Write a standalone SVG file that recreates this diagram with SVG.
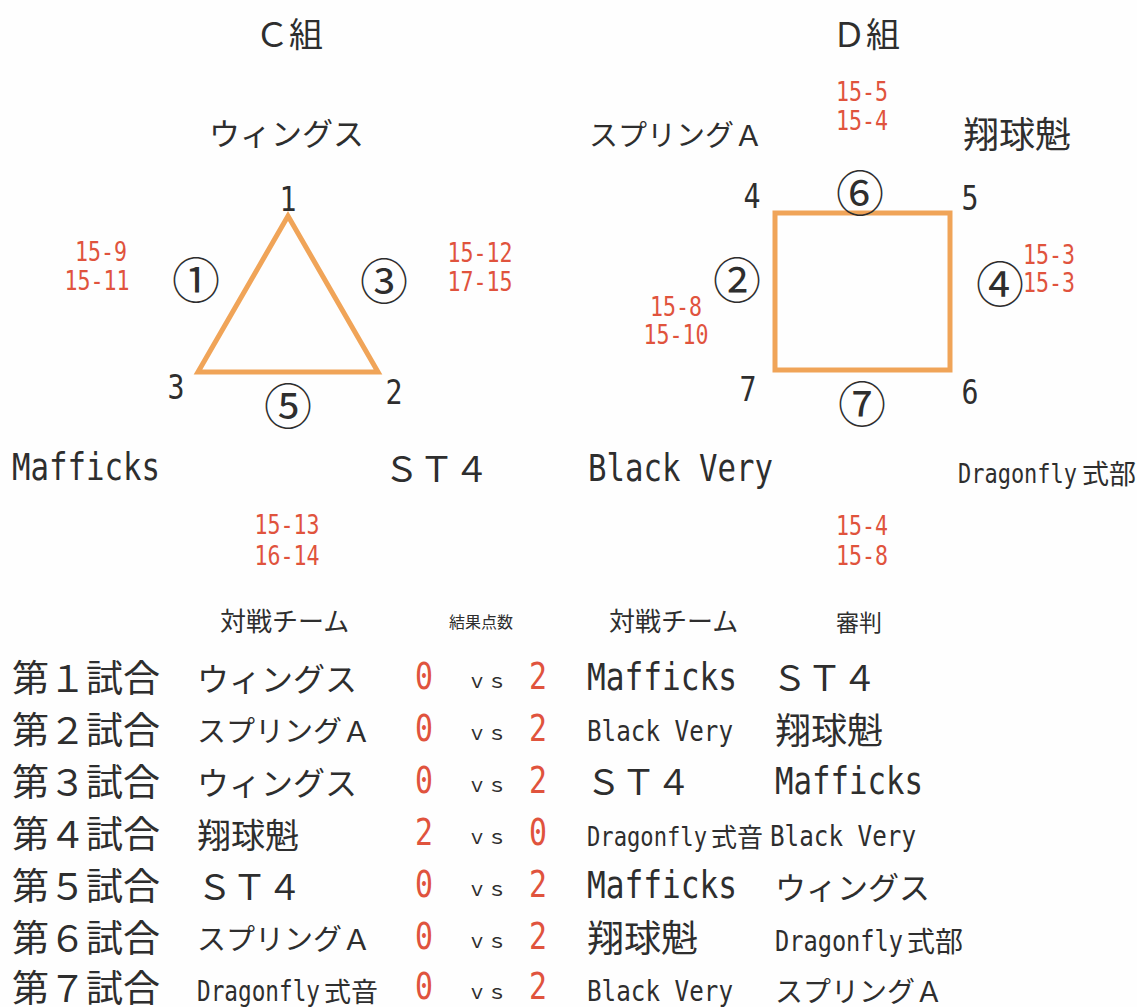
<svg xmlns="http://www.w3.org/2000/svg" width="1137" height="1007" viewBox="0 0 1137 1007">
<style>
  .j { font-family: "Noto Sans CJK JP", sans-serif; fill: #2e2e2e; }
  .m { font-family: "DejaVu Sans Mono", "Liberation Mono", monospace; fill: #2e2e2e; }
  .r { fill: #e0533d; }
  .c { font-family: "Noto Sans CJK JP", sans-serif; fill: #2e2e2e; font-size: 48px; text-anchor: middle; }
  .edge { fill: none; stroke: #f0a458; stroke-width: 5; stroke-linejoin: miter; }
</style>
<rect width="1137" height="1007" fill="#fefefe"/>

<g id="connectors">
  <polygon class="edge" points="288,216 378,372 198,372"/>
  <rect class="edge" x="775" y="213" width="175" height="157"/>
</g>

<g id="group-c">
  <text class="j" x="255" y="47" font-size="34">Ｃ組</text>
  <g id="team-wings"><text class="j" x="209" y="145" font-size="31">ウィングス</text></g>
  <g id="team-mafficks"><text class="m" x="12" y="480" font-size="37" textLength="148" lengthAdjust="spacingAndGlyphs">Mafficks</text></g>
  <g id="team-st4"><text class="j" x="384" y="482" font-size="35">ＳＴ４</text></g>
  <g id="v1"><text class="m" x="288" y="211" font-size="34" text-anchor="middle" textLength="17" lengthAdjust="spacingAndGlyphs">1</text></g>
  <g id="v2"><text class="m" x="394" y="404" font-size="34" text-anchor="middle" textLength="17" lengthAdjust="spacingAndGlyphs">2</text></g>
  <g id="v3"><text class="m" x="176" y="399" font-size="34" text-anchor="middle" textLength="17" lengthAdjust="spacingAndGlyphs">3</text></g>
  <g id="m1"><text class="c" x="196" y="298">①</text></g>
  <g id="m3"><text class="c" x="384" y="299">③</text></g>
  <g id="m5"><text class="c" x="288" y="424">⑤</text></g>
  <g id="s1">
    <text class="m r" x="101" y="261" font-size="26" text-anchor="middle" textLength="52" lengthAdjust="spacingAndGlyphs">15-9</text>
    <text class="m r" x="97" y="290" font-size="26" text-anchor="middle" textLength="65" lengthAdjust="spacingAndGlyphs">15-11</text>
  </g>
  <g id="s3">
    <text class="m r" x="480" y="262" font-size="26" text-anchor="middle" textLength="65" lengthAdjust="spacingAndGlyphs">15-12</text>
    <text class="m r" x="480" y="291" font-size="26" text-anchor="middle" textLength="65" lengthAdjust="spacingAndGlyphs">17-15</text>
  </g>
  <g id="s5">
    <text class="m r" x="287" y="534" font-size="26" text-anchor="middle" textLength="65" lengthAdjust="spacingAndGlyphs">15-13</text>
    <text class="m r" x="287" y="565" font-size="26" text-anchor="middle" textLength="65" lengthAdjust="spacingAndGlyphs">16-14</text>
  </g>
</g>

<g id="group-d">
  <text class="j" x="832" y="47" font-size="34">Ｄ組</text>
  <g id="team-springa"><text class="j" x="589" y="146" font-size="29">スプリングＡ</text></g>
  <g id="team-shoukyukai"><text class="j" x="963" y="148" font-size="36">翔球魁</text></g>
  <g id="team-blackvery"><text class="m" x="588" y="481" font-size="37" textLength="185" lengthAdjust="spacingAndGlyphs">Black Very</text></g>
  <g id="team-dragonfly">
    <text class="m" x="958" y="483" font-size="27" textLength="119" lengthAdjust="spacingAndGlyphs">Dragonfly</text>
    <text class="j" x="1082" y="484" font-size="27">式部</text>
  </g>
  <g id="v4"><text class="m" x="752" y="208" font-size="34" text-anchor="middle" textLength="17" lengthAdjust="spacingAndGlyphs">4</text></g>
  <g id="v5"><text class="m" x="970" y="210" font-size="34" text-anchor="middle" textLength="17" lengthAdjust="spacingAndGlyphs">5</text></g>
  <g id="v6"><text class="m" x="970" y="404" font-size="34" text-anchor="middle" textLength="17" lengthAdjust="spacingAndGlyphs">6</text></g>
  <g id="v7"><text class="m" x="748" y="401" font-size="34" text-anchor="middle" textLength="17" lengthAdjust="spacingAndGlyphs">7</text></g>
  <g id="m2"><text class="c" x="737" y="298">②</text></g>
  <g id="m4"><text class="c" x="1000" y="302">④</text></g>
  <g id="m6"><text class="c" x="860" y="211">⑥</text></g>
  <g id="m7"><text class="c" x="862" y="422">⑦</text></g>
  <g id="s6">
    <text class="m r" x="862" y="101" font-size="26" text-anchor="middle" textLength="52" lengthAdjust="spacingAndGlyphs">15-5</text>
    <text class="m r" x="862" y="130" font-size="26" text-anchor="middle" textLength="52" lengthAdjust="spacingAndGlyphs">15-4</text>
  </g>
  <g id="s4">
    <text class="m r" x="1049" y="264" font-size="26" text-anchor="middle" textLength="52" lengthAdjust="spacingAndGlyphs">15-3</text>
    <text class="m r" x="1049" y="292" font-size="26" text-anchor="middle" textLength="52" lengthAdjust="spacingAndGlyphs">15-3</text>
  </g>
  <g id="s2">
    <text class="m r" x="676" y="316" font-size="26" text-anchor="middle" textLength="52" lengthAdjust="spacingAndGlyphs">15-8</text>
    <text class="m r" x="676" y="344" font-size="26" text-anchor="middle" textLength="65" lengthAdjust="spacingAndGlyphs">15-10</text>
  </g>
  <g id="s7">
    <text class="m r" x="862" y="535" font-size="26" text-anchor="middle" textLength="52" lengthAdjust="spacingAndGlyphs">15-4</text>
    <text class="m r" x="862" y="565" font-size="26" text-anchor="middle" textLength="52" lengthAdjust="spacingAndGlyphs">15-8</text>
  </g>
</g>

<g id="table">
  <g id="header">
    <text class="j" x="220" y="631" font-size="26">対戦チーム</text>
    <text class="j" x="449" y="628" font-size="16">結果点数</text>
    <text class="j" x="609" y="631" font-size="26">対戦チーム</text>
    <text class="j" x="836" y="631" font-size="23">審判</text>
  </g>
  <g id="row1">
    <text class="j" x="12" y="692" font-size="37">第１試合</text>
    <text class="j" x="197" y="691" font-size="32">ウィングス</text>
    <text class="m r" x="424" y="689" font-size="37" text-anchor="middle" textLength="18" lengthAdjust="spacingAndGlyphs">0</text>
    <text class="j" x="467" y="688" font-size="20">ｖｓ</text>
    <text class="m r" x="538" y="689" font-size="37" text-anchor="middle" textLength="18" lengthAdjust="spacingAndGlyphs">2</text>
    <text class="m" x="587" y="690" font-size="37" textLength="150" lengthAdjust="spacingAndGlyphs">Mafficks</text>
    <text class="j" x="772" y="691" font-size="35">ＳＴ４</text>
  </g>
  <g id="row2">
    <text class="j" x="12" y="744" font-size="37">第２試合</text>
    <text class="j" x="197" y="742" font-size="29">スプリングＡ</text>
    <text class="m r" x="424" y="741" font-size="37" text-anchor="middle" textLength="18" lengthAdjust="spacingAndGlyphs">0</text>
    <text class="j" x="467" y="740" font-size="20">ｖｓ</text>
    <text class="m r" x="538" y="741" font-size="37" text-anchor="middle" textLength="18" lengthAdjust="spacingAndGlyphs">2</text>
    <text class="m" x="587" y="741" font-size="29" textLength="146" lengthAdjust="spacingAndGlyphs">Black Very</text>
    <text class="j" x="775" y="744" font-size="36">翔球魁</text>
  </g>
  <g id="row3">
    <text class="j" x="12" y="796" font-size="37">第３試合</text>
    <text class="j" x="197" y="795" font-size="32">ウィングス</text>
    <text class="m r" x="424" y="793" font-size="37" text-anchor="middle" textLength="18" lengthAdjust="spacingAndGlyphs">0</text>
    <text class="j" x="467" y="792" font-size="20">ｖｓ</text>
    <text class="m r" x="538" y="793" font-size="37" text-anchor="middle" textLength="18" lengthAdjust="spacingAndGlyphs">2</text>
    <text class="j" x="586" y="795" font-size="35">ＳＴ４</text>
    <text class="m" x="775" y="794" font-size="37" textLength="148" lengthAdjust="spacingAndGlyphs">Mafficks</text>
  </g>
  <g id="row4">
    <text class="j" x="12" y="848" font-size="37">第４試合</text>
    <text class="j" x="197" y="848" font-size="34">翔球魁</text>
    <text class="m r" x="424" y="845" font-size="37" text-anchor="middle" textLength="18" lengthAdjust="spacingAndGlyphs">2</text>
    <text class="j" x="467" y="844" font-size="20">ｖｓ</text>
    <text class="m r" x="538" y="845" font-size="37" text-anchor="middle" textLength="18" lengthAdjust="spacingAndGlyphs">0</text>
    <text class="m" x="587" y="846" font-size="27" textLength="120" lengthAdjust="spacingAndGlyphs">Dragonfly</text>
    <text class="j" x="711" y="847" font-size="26">式音</text>
    <text class="m" x="770" y="846" font-size="29" textLength="146" lengthAdjust="spacingAndGlyphs">Black Very</text>
  </g>
  <g id="row5">
    <text class="j" x="12" y="900" font-size="37">第５試合</text>
    <text class="j" x="197" y="900" font-size="35">ＳＴ４</text>
    <text class="m r" x="424" y="897" font-size="37" text-anchor="middle" textLength="18" lengthAdjust="spacingAndGlyphs">0</text>
    <text class="j" x="467" y="896" font-size="20">ｖｓ</text>
    <text class="m r" x="538" y="897" font-size="37" text-anchor="middle" textLength="18" lengthAdjust="spacingAndGlyphs">2</text>
    <text class="m" x="587" y="898" font-size="37" textLength="150" lengthAdjust="spacingAndGlyphs">Mafficks</text>
    <text class="j" x="775" y="899" font-size="31">ウィングス</text>
  </g>
  <g id="row6">
    <text class="j" x="12" y="952" font-size="37">第６試合</text>
    <text class="j" x="197" y="950" font-size="29">スプリングＡ</text>
    <text class="m r" x="424" y="949" font-size="37" text-anchor="middle" textLength="18" lengthAdjust="spacingAndGlyphs">0</text>
    <text class="j" x="467" y="948" font-size="20">ｖｓ</text>
    <text class="m r" x="538" y="949" font-size="37" text-anchor="middle" textLength="18" lengthAdjust="spacingAndGlyphs">2</text>
    <text class="j" x="587" y="952" font-size="37">翔球魁</text>
    <text class="m" x="775" y="951" font-size="29" textLength="128" lengthAdjust="spacingAndGlyphs">Dragonfly</text>
    <text class="j" x="907" y="952" font-size="28">式部</text>
  </g>
  <g id="row7">
    <text class="j" x="12" y="1002" font-size="37">第７試合</text>
    <text class="m" x="197" y="1001" font-size="28" textLength="123" lengthAdjust="spacingAndGlyphs">Dragonfly</text>
    <text class="j" x="324" y="1002" font-size="27">式音</text>
    <text class="m r" x="424" y="999" font-size="37" text-anchor="middle" textLength="18" lengthAdjust="spacingAndGlyphs">0</text>
    <text class="j" x="467" y="999" font-size="20">ｖｓ</text>
    <text class="m r" x="538" y="999" font-size="37" text-anchor="middle" textLength="18" lengthAdjust="spacingAndGlyphs">2</text>
    <text class="m" x="587" y="1001" font-size="29" textLength="146" lengthAdjust="spacingAndGlyphs">Black Very</text>
    <text class="j" x="775" y="1002" font-size="28">スプリングＡ</text>
  </g>
</g>
</svg>
